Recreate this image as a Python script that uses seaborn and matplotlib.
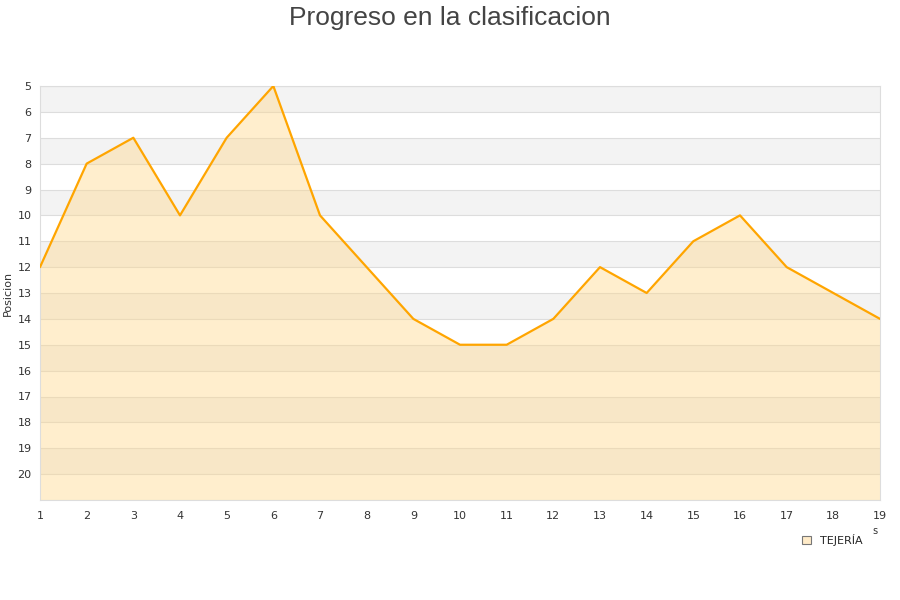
import matplotlib
matplotlib.use('Agg')
from matplotlib import pyplot as plt
from matplotlib.patches import Patch
import seaborn as sns
import pandas as pd

jornadas = list(range(1, 20))
posicion = [12, 8, 7, 10, 7, 5, 10, 12, 14, 15, 15, 14, 12, 13, 11, 10, 12, 13, 14]
equipo = 'TEJERÍA'

sns.set_style('white')
plt.rcParams['font.family'] = ['DejaVu Sans']

df = pd.DataFrame({'jornada': jornadas, 'posicion': posicion})

fig = plt.figure(figsize=(9, 6), dpi=100)
ax = fig.add_axes([40 / 900, 100 / 600, 840 / 900, 414 / 600])

# bandas alternas
for y0 in range(5, 21, 2):
    ax.axhspan(y0, y0 + 1, color='#f3f3f3', zorder=0, lw=0)
for y in range(5, 22):
    ax.axhline(y, color='#dddddd', lw=0.8, zorder=1)

ax.fill_between(df['jornada'], df['posicion'], 21, color='#ffd88a', alpha=0.42, lw=0, zorder=2)
sns.lineplot(data=df, x='jornada', y='posicion', color='#ffa500', lw=1.6, ax=ax, zorder=3)

ax.set_xlim(1, 19)
ax.set_ylim(21, 5)
ax.set_xticks(jornadas)
ax.set_yticks(range(5, 21))
ax.tick_params(axis='both', labelsize=8, colors='#333333', length=0)
ax.tick_params(axis='x', pad=8)
ax.tick_params(axis='y', pad=6)
ax.set_xlabel('')
ax.set_ylabel('Posicion', fontsize=8, color='#333333', labelpad=3)
for s in ax.spines.values():
    s.set_color('#dddddd')
    s.set_linewidth(0.8)

fig.text(0.5, 0.99, 'Progreso en la clasificacion', ha='center', va='top',
         fontsize=19, color='#444444', family='Liberation Sans')
fig.text(0.972, 0.115, 's', ha='center', va='center', fontsize=7, color='#333333')

handle = Patch(facecolor='#ffebc8', edgecolor='#777777', lw=0.8)
fig.legend([handle], [equipo], loc='center', bbox_to_anchor=(0.925, 0.1),
           frameon=False, fontsize=8, handlelength=0.8, handleheight=0.8)

plt.savefig('out.png', dpi=100)
